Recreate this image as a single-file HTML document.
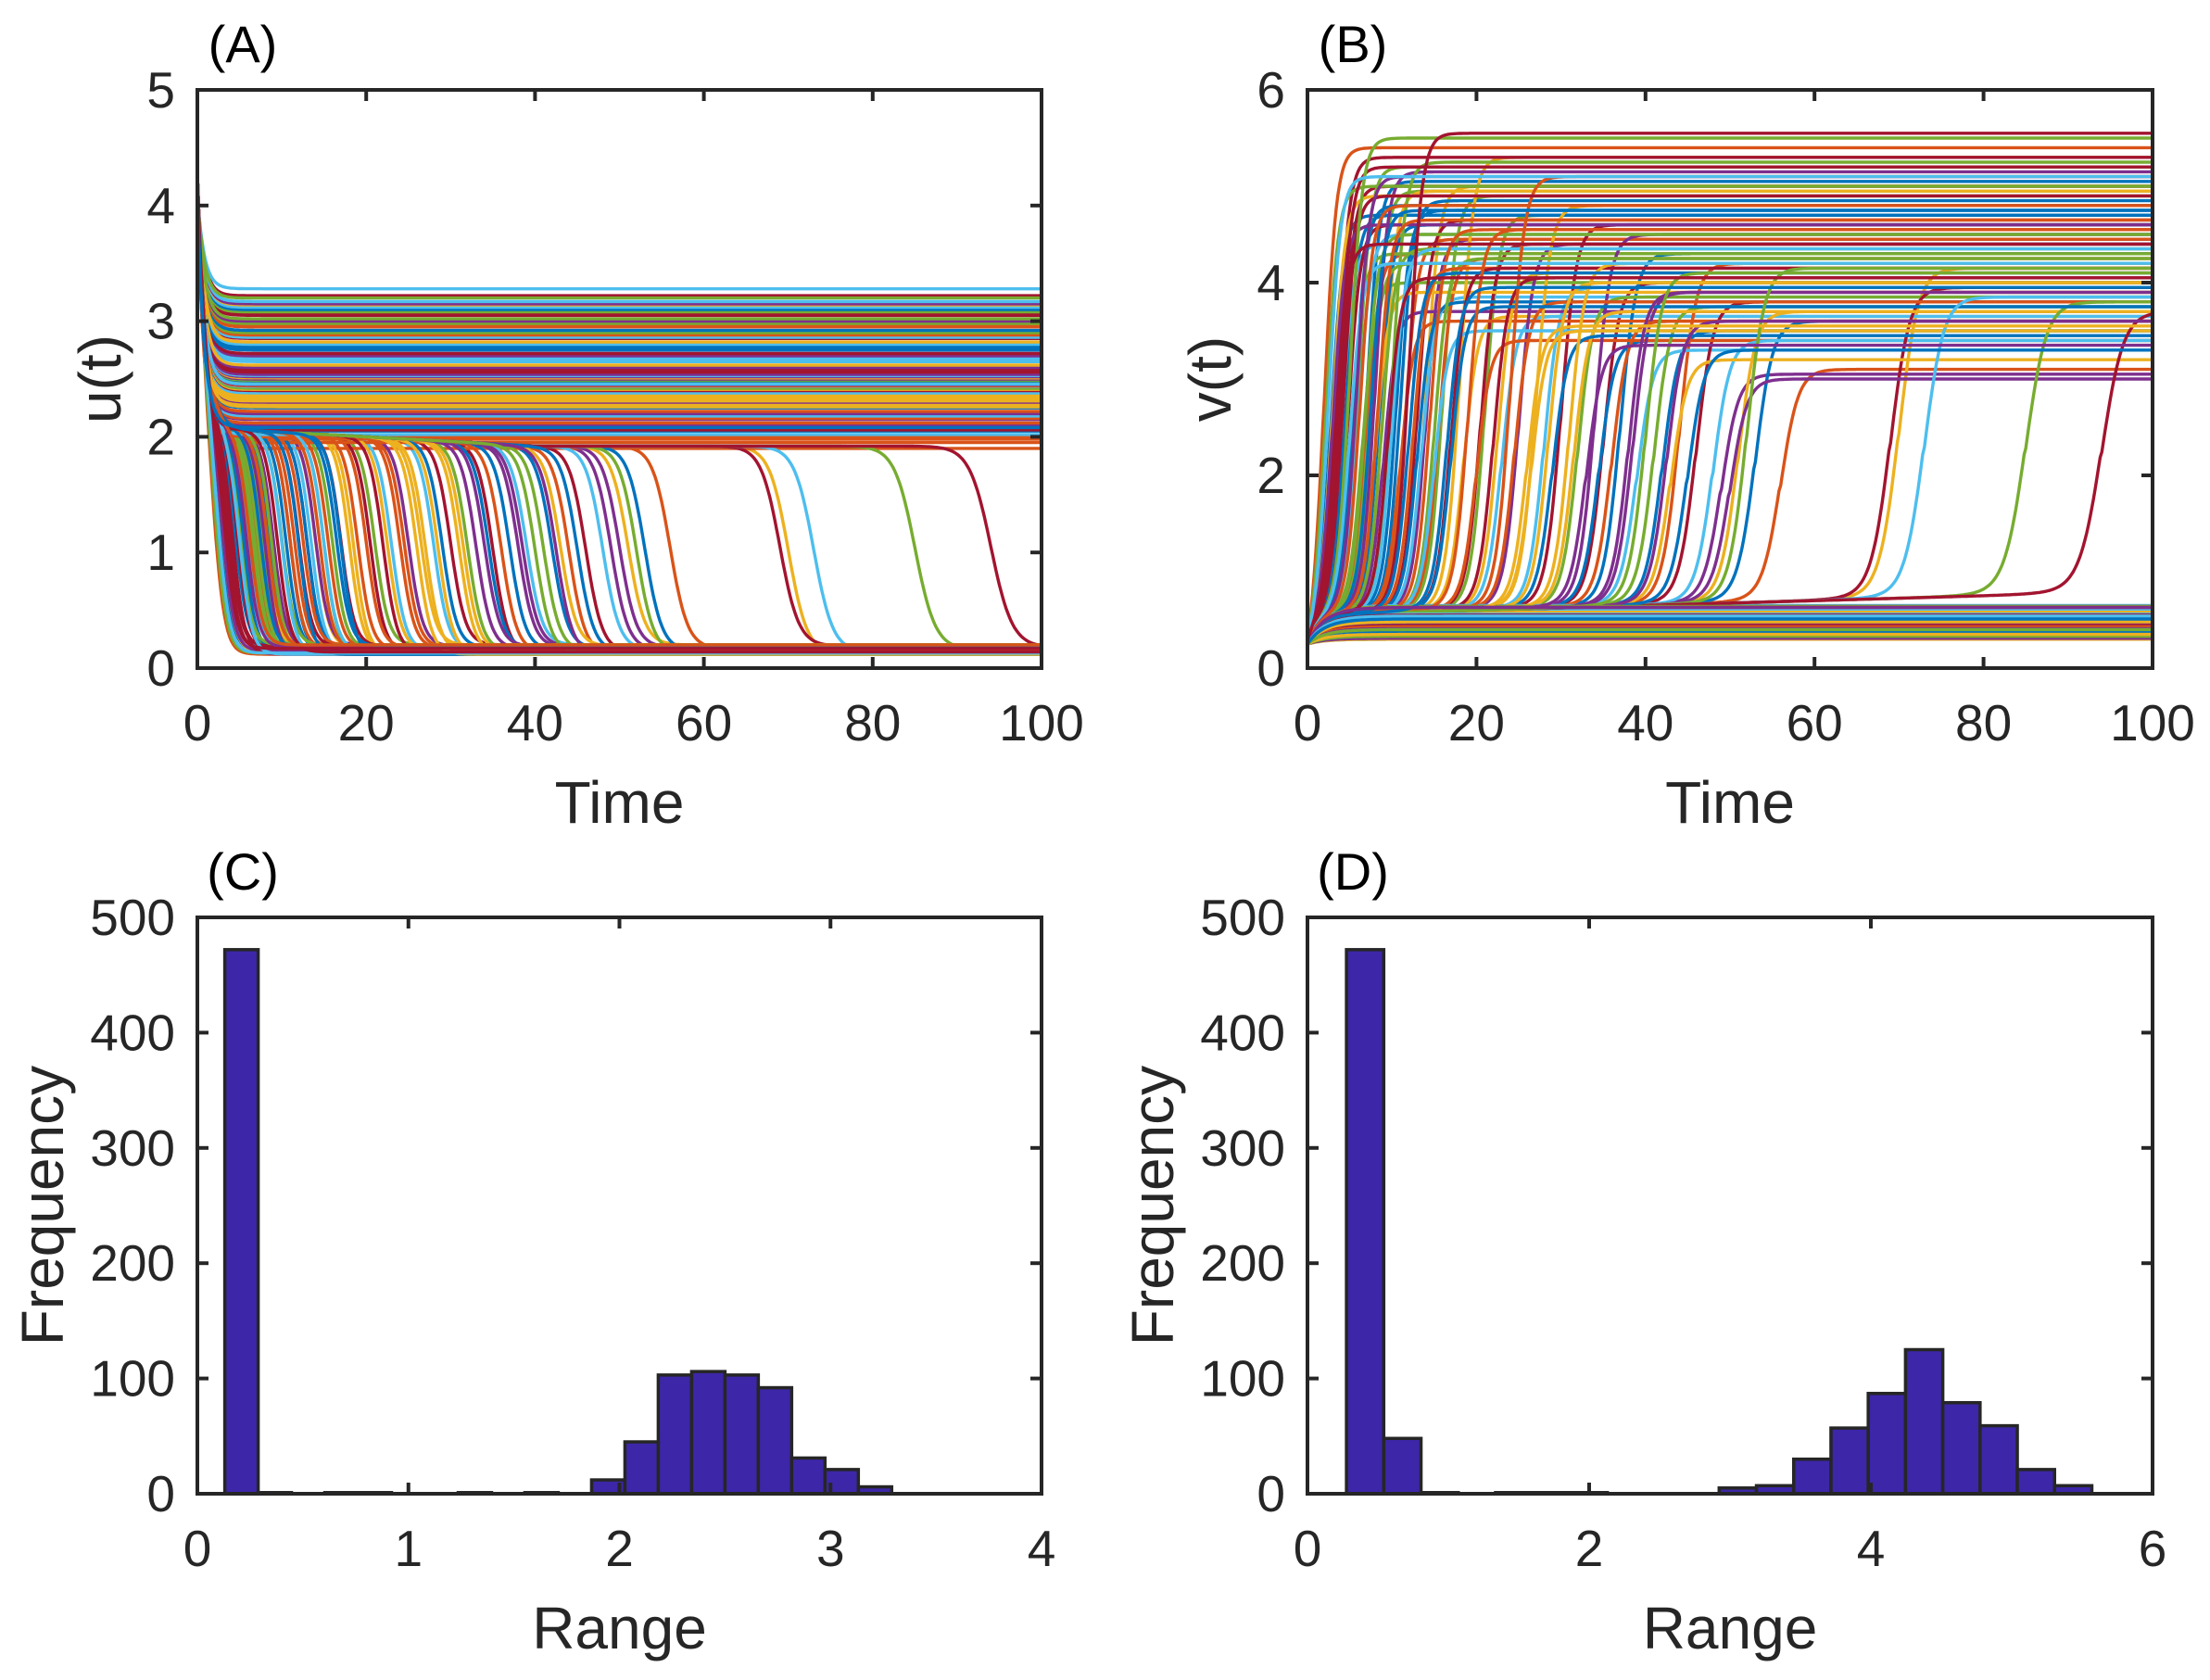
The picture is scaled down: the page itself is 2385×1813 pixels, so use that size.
<!DOCTYPE html>
<html><head><meta charset="utf-8"><style>
html,body{margin:0;padding:0;background:#fff;}
svg{display:block;font-family:"Liberation Sans",sans-serif;}
</style></head><body>
<svg id="fig" width="2385" height="1813" viewBox="0 0 2385 1813" xmlns="http://www.w3.org/2000/svg"></svg>
<script>
// ---- data ----
const colors = ["#0072BD","#D95319","#EDB120","#7E2F8E","#77AC30","#4DBEEE","#A2142F"];
// trajectories that stay high in u (low in v)
const uPlateaus = [3.28,3.22,3.2,3.17,3.14,3.12,3.1,3.08,3.05,3.02,3.0,2.97,2.95,2.92,2.9,2.88,2.85,2.82,2.8,2.78,2.75,2.72,2.7,2.68,2.65,2.62,2.6,2.58,2.56,2.55,2.53,2.52,2.5,2.49,2.48,2.47,2.46,2.45,2.44,2.42,2.4,2.38,2.36,2.33,2.3,2.28,2.25,2.22,2.2,2.18,2.15,2.12,2.1,2.08,2.05,2.02,2.0,1.98,1.95,1.9,
  3.15,3.06,2.98,2.86,2.76,2.66,2.57,2.54,2.51,2.485,2.465,2.455,2.435,2.41,2.39,2.35,2.31,2.26,2.16,2.06];
const vLows = [0.3,0.32,0.33,0.34,0.35,0.36,0.37,0.38,0.39,0.4,0.41,0.42,0.43,0.44,0.45,0.46,0.47,0.48,0.49,0.5,0.5,0.51,0.52,0.53,0.54,0.55,0.56,0.57,0.58,0.58,0.59,0.6,0.6,0.61,0.61,0.62,0.62,0.63,0.63,0.64,0.64,0.65,0.3,0.31,0.33,0.35,0.37,0.39,0.41,0.43,0.45,0.47,0.49,0.51,0.53,0.55,0.57,0.59,0.61,0.63,
  0.31,0.34,0.36,0.38,0.4,0.42,0.44,0.46,0.48,0.5,0.52,0.54,0.56,0.58,0.6,0.62,0.64,0.35,0.45,0.55];
// trajectories that switch (drop in u, jump in v)
const dropTimes = [2,2.5,3,3,3.5,4,4,4.5,5,5,5.5,6,6,6.5,7,7,7.5,8,8,8.5,9,9,10,10,11,11,12,12,13,13,14,14,15,15,16,17,17,18,19,20,21,22,23,24,25,26,27,28,29,30,31,32,33,34,35,36,37,38,39,40,41,42,43,44,46,48,50,51,52,53,56,69,70,73,85,94,
  2.2,2.8,3.3,3.8,4.2,4.8,5.2,5.8,6.2,6.8,7.2,7.8,8.3,8.8,9.5,10.5,11.5,12.5,13.5,14.5,15.5,16.5,18.5,20.5,22.5,24.5,26.5,28.5,31.5,34.5,38.5,42.5,45,49];
const vHighs = [5.4,5.1,4.9,4.6,5.3,4.4,5.0,4.7,5.5,4.2,4.8,5.2,4.5,4.0,5.05,4.3,4.75,3.9,5.15,4.6,4.95,3.7,5.25,4.35,4.85,3.6,5.55,4.1,4.65,3.8,5.0,4.45,4.25,3.5,4.9,4.15,3.75,5.3,4.55,3.4,4.7,4.05,3.65,5.1,4.4,3.55,4.8,3.95,3.45,4.6,4.2,3.85,3.35,4.5,4.0,3.6,4.3,3.9,3.3,4.1,3.75,3.5,3.2,4.2,3.8,3.4,3.0,3.7,4.15,3.6,3.1,3.95,4.15,3.85,3.8,3.7,
  5.0,4.7,4.4,5.2,4.9,4.6,4.3,5.1,4.8,4.5,4.2,4.95,4.65,4.35,4.05,4.75,4.45,4.15,3.85,4.55,4.25,3.95,3.65,4.4,4.1,3.8,3.5,4.0,3.7,3.4,3.9,3.6,3.3,3.05];
const uFinals = [0.12,0.13,0.14,0.15,0.16,0.17,0.18,0.19,0.2,0.12,0.14,0.16,0.18,0.2,0.13,0.15,0.17,0.19,0.12,0.14,0.16,0.18,0.2,0.13,0.15,0.17,0.19,0.12,0.14,0.16,0.18,0.2,0.13,0.15,0.17,0.19,0.12,0.14,0.16,0.18,0.2,0.13,0.15,0.17,0.19,0.12,0.14,0.16,0.18,0.2,0.13,0.15,0.17,0.19,0.12,0.14,0.16,0.18,0.2,0.13,0.15,0.17,0.19,0.12,0.14,0.16,0.18,0.2,0.13,0.15,0.17,0.19,0.12,0.14,0.16,0.18,
  0.13,0.15,0.17,0.19,0.12,0.14,0.16,0.18,0.2,0.13,0.15,0.17,0.19,0.12,0.14,0.16,0.18,0.2,0.13,0.15,0.17,0.19,0.12,0.14,0.16,0.18,0.2,0.13,0.15,0.17,0.19,0.12,0.14,0.16];
// histograms
const histCStart = 0.13, histCWidth = 0.158;
const histCCounts = [472,1,0,1,1,0,0,1,0,1,0,12,45,103,106,103,92,31,21,6];
const histDStart = 0.277, histDWidth = 0.2646;
const histDCounts = [472,48,1,0,1,1,1,0,0,0,5,7,30,57,87,125,79,59,21,7];
const timeTicks = [0,20,40,60,80,100];
const uTicks = [0,1,2,3,4,5];
const vTicks = [0,2,4,6];
const freqTicks = [0,100,200,300,400,500];
const rangeCTicks = [0,1,2,3,4];
const rangeDTicks = [0,2,4,6];

// ---- helpers ----
const NS="http://www.w3.org/2000/svg";
const svg=document.getElementById('fig');
function mk(tag,attrs,parent){const e=document.createElementNS(NS,tag);for(const k in attrs)e.setAttribute(k,attrs[k]);(parent||svg).appendChild(e);return e;}
const TXT="#262626";
function makeAxes(p){
  const sx=v=>p.x0+(v-p.xmin)/(p.xmax-p.xmin)*(p.x1-p.x0);
  const sy=v=>p.y1-(v-p.ymin)/(p.ymax-p.ymin)*(p.y1-p.y0);
  return {sx,sy};
}
function drawFrame(p,ax,xt,yt,xlab,ylab,panel,key){
  const g=mk('g',{});
  
  
  xt.forEach(v=>{const x=ax.sx(v);
    mk('line',{x1:x,x2:x,y1:p.y1,y2:p.y1-12,stroke:TXT,'stroke-width':4},g);
    mk('line',{x1:x,x2:x,y1:p.y0,y2:p.y0+12,stroke:TXT,'stroke-width':4},g);
    const t=mk('text',{x:x,y:p.y1+78,'font-size':55,fill:TXT,'text-anchor':'middle'},g);t.textContent=v;
    
    
  });
  yt.forEach(v=>{const y=ax.sy(v);
    mk('line',{x1:p.x0,x2:p.x0+12,y1:y,y2:y,stroke:TXT,'stroke-width':4},g);
    mk('line',{x1:p.x1,x2:p.x1-12,y1:y,y2:y,stroke:TXT,'stroke-width':4},g);
    const t=mk('text',{x:p.x0-24,y:y+19,'font-size':55,fill:TXT,'text-anchor':'end'},g);t.textContent=v;
    
    
  });
  const r=mk('rect',{x:p.x0,y:p.y0,width:p.x1-p.x0,height:p.y1-p.y0,fill:'none',stroke:TXT,'stroke-width':4},g);
  
  
  const xl=mk('text',{x:(p.x0+p.x1)/2,y:p.y1+167,'font-size':64,fill:TXT,'text-anchor':'middle'},g);xl.textContent=xlab;
  
  
  const yc=(p.y0+p.y1)/2, ylx=p.lx;
  const yl=mk('text',{x:ylx,y:yc,'font-size':64,fill:TXT,'text-anchor':'middle',transform:`rotate(-90 ${ylx} ${yc})`,dy:22},g);yl.textContent=ylab;
  
  
  const pl=mk('text',{x:p.x0+49,y:p.y0-30,'font-size':56,fill:'#000','text-anchor':'middle'},g);pl.textContent=panel;
  
  
}

// ---- panel geometry ----
const PA={x0:213,x1:1124,y0:97,y1:721,xmin:0,xmax:100,ymin:0,ymax:5,lx:108};
const PB={x0:1411,x1:2323,y0:97,y1:721,xmin:0,xmax:100,ymin:0,ymax:6,lx:1306};
const PC={x0:213,x1:1124,y0:990,y1:1612,xmin:0,xmax:4,ymin:0,ymax:500,lx:46};
const PD={x0:1411,x1:2323,y0:990,y1:1612,xmin:0,xmax:6,ymin:0,ymax:500,lx:1244};
const aA=makeAxes(PA),aB=makeAxes(PB),aC=makeAxes(PC),aD=makeAxes(PD);

const defs=mk('defs',{});
[['cA',PA],['cB',PB]].forEach(([id,p])=>{const c=mk('clipPath',{id},defs);mk('rect',{x:p.x0,y:p.y0,width:p.x1-p.x0,height:p.y1-p.y0},c);});

// ---- time-series ----
const gA=mk('g',{'clip-path':'url(#cA)'});


const gB=mk('g',{'clip-path':'url(#cB)'});


const ts=[];for(let i=0;i<=500;i++)ts.push(i*0.2);
function pathFrom(ax,fn){return ts.map((t,i)=>(i?'L':'M')+ax.sx(t).toFixed(1)+' '+ax.sy(fn(t)).toFixed(1)).join('');}
const curves=[];
uPlateaus.forEach((p,i)=>curves.push({type:'stay',p,vl:vLows[i]}));
dropTimes.forEach((T,i)=>curves.push({type:'drop',T,vh:vHighs[i],uf:uFinals[i]}));
curves.sort((a,b)=>((a.type==='stay'?a.p*37:a.T*53)%7)-((b.type==='stay'?b.p*37:b.T*53)%7));
curves.forEach((c,k)=>{
  const col=colors[k%7];
  let fu,fv;
  if(c.type==='stay'){
    fu=t=>c.p+(4.1-c.p)*Math.exp(-t/0.8);
    fv=t=>c.vl+(0.25-c.vl)*Math.exp(-t/2);
  }else{
    const w=0.7+c.T*0.006;
    const s=t=>1/(1+Math.exp(-(t-c.T)/w));
    const s0=s(0);
    const d=t=>(s(t)-s0)/(1-s0);
    const upre=t=>1.92+0.004*Math.max(0,40-t)+(4.1-1.92)*Math.exp(-t/1.0);
    fu=t=>upre(t)*(1-d(t))+c.uf*d(t);
    const vpre=t=>0.55+0.0025*t+0.12*Math.exp((t-c.T)/3)*(t<c.T?1:0)+(0.25-0.55)*Math.exp(-t/1.5);
    fv=t=>vpre(t)*(1-d(t))+c.vh*d(t);
  }
  const pa=mk('path',{d:pathFrom(aA,fu),fill:'none',stroke:col,'stroke-width':3.4},gA);
  
  
  const pb=mk('path',{d:pathFrom(aB,fv),fill:'none',stroke:col,'stroke-width':3.4},gB);
  
  
});

// ---- histograms ----
function drawHist(ax,start,width,counts,name){
  const g=mk('g',{});
  
  
  counts.forEach((n,i)=>{
    const xa=ax.sx(start+i*width),xb=ax.sx(start+(i+1)*width);
    const ya=ax.sy(n),yb=ax.sy(0);
    const r=mk('rect',{x:xa,y:ya,width:xb-xa,height:yb-ya,fill:'#3D26A8',stroke:'#262626','stroke-width':3.5},g);
    
    
  });
}
drawHist(aC,histCStart,histCWidth,histCCounts,'histogram-u-range');
drawHist(aD,histDStart,histDWidth,histDCounts,'histogram-v-range');

drawFrame(PA,aA,timeTicks,uTicks,'Time','u(t)','(A)','panel-a');
drawFrame(PB,aB,timeTicks,vTicks,'Time','v(t)','(B)','panel-b');
drawFrame(PC,aC,rangeCTicks,freqTicks,'Range','Frequency','(C)','panel-c');
drawFrame(PD,aD,rangeDTicks,freqTicks,'Range','Frequency','(D)','panel-d');
</script>
</body></html>
